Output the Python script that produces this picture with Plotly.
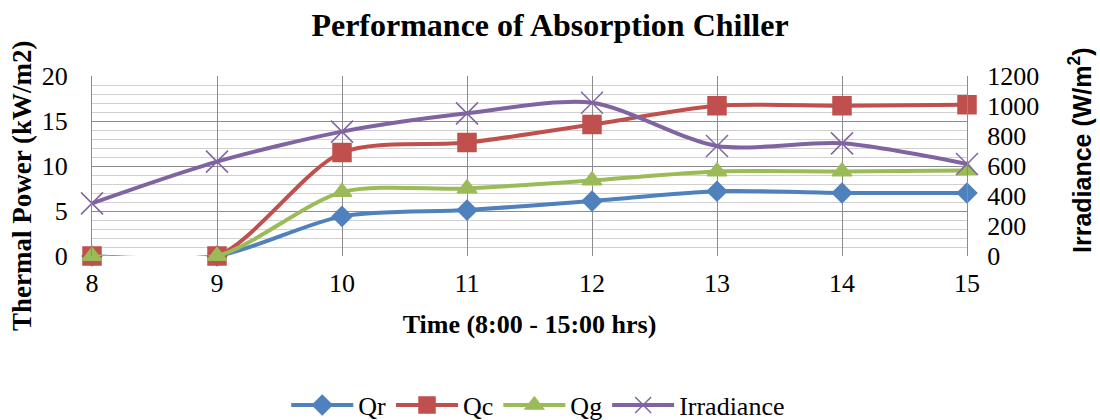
import plotly.graph_objects as go

hours = [8, 9, 10, 11, 12, 13, 14, 15]
qr = [0, 0, 4.4, 5.1, 6.1, 7.2, 7.0, 7.0]
qc = [0, 0, 11.5, 12.6, 14.6, 16.7, 16.7, 16.8]
qg = [0, 0, 7.1, 7.5, 8.4, 9.4, 9.4, 9.5]
irr = [351, 629, 829, 951, 1022, 733, 751, 613]

SERIF = "Liberation Serif"
SANS = "Liberation Sans"

fig = go.Figure()
specs = [
    ("Qr", qr, "#4F81BD", "diamond", 15, "y"),
    ("Qc", qc, "#C0504D", "square", 18, "y"),
    ("Qg", qg, "#9BBB59", "triangle-up", 17, "y"),
    ("Irradiance", irr, "#8064A2", "x-thin", 22, "y2"),
]
for name, vals, col, sym, sz, ax in specs:
    fig.add_trace(go.Scatter(
        x=hours, y=vals, name=name, yaxis=ax, mode="lines+markers",
        line=dict(color=col, width=4, shape="spline", smoothing=0.8),
        marker=dict(symbol=sym, size=sz, color=col,
                    line=dict(color=col, width=1.5)),
        cliponaxis=False,
    ))

fig.update_layout(
    width=1100, height=420,
    margin=dict(l=92, r=133, t=76, b=164, autoexpand=False),
    paper_bgcolor="white", plot_bgcolor="white",
    title=dict(text="<b>Performance of Absorption Chiller</b>",
               x=0.5, xanchor="center", y=0.942, yanchor="middle",
               font=dict(family=SERIF, size=32, color="black")),
    font=dict(family=SERIF, size=26, color="black"),
    xaxis=dict(range=[8, 15], dtick=1, tick0=8,
               showgrid=True, gridcolor="#8c8c8c", gridwidth=1,
               showline=False, zeroline=False,
               ticks="", ticklabelstandoff=9,
               tickfont=dict(family=SERIF, size=26),
               title=dict(text="<b>Time (8:00 - 15:00 hrs)</b>",
                          font=dict(family=SERIF, size=26), standoff=17)),
    yaxis=dict(range=[0, 20], dtick=5, showgrid=True, gridcolor="#8c8c8c",
               gridwidth=1, zeroline=False, showline=True,
               linecolor="#8c8c8c", linewidth=1, ticks="",
               ticklabelstandoff=18,
               minor=dict(dtick=1, showgrid=True, gridcolor="#d0d0d0", gridwidth=1),
               tickfont=dict(family=SERIF, size=26)),
    yaxis2=dict(range=[0, 1200], dtick=200, overlaying="y", side="right",
                showgrid=False, zeroline=False, showline=True,
                linecolor="#8c8c8c", linewidth=1, ticks="",
                ticklabelstandoff=14,
                tickfont=dict(family=SERIF, size=26)),
    annotations=[
        dict(text="<b>Thermal Power (kW/m2)</b>", textangle=-90,
             xref="paper", yref="paper", x=-70 / 875, y=(256 - 186) / 180,
             xanchor="center", yanchor="middle", showarrow=False,
             font=dict(family=SERIF, size=27, color="black")),
        dict(text="<b>Irradiance (W/m<sup>2</sup>)</b>", textangle=-90,
             xref="paper", yref="paper", x=1 + 113 / 875, y=(256 - 150) / 180,
             xanchor="center", yanchor="middle", showarrow=False,
             font=dict(family=SANS, size=25, color="black")),
    ],
    legend=dict(orientation="h", x=0.51, xanchor="center", y=-0.828,
                yanchor="middle", font=dict(family=SERIF, size=26),
                itemwidth=62, tracegroupgap=0),
    showlegend=True,
)

fig.write_html("out.html")
